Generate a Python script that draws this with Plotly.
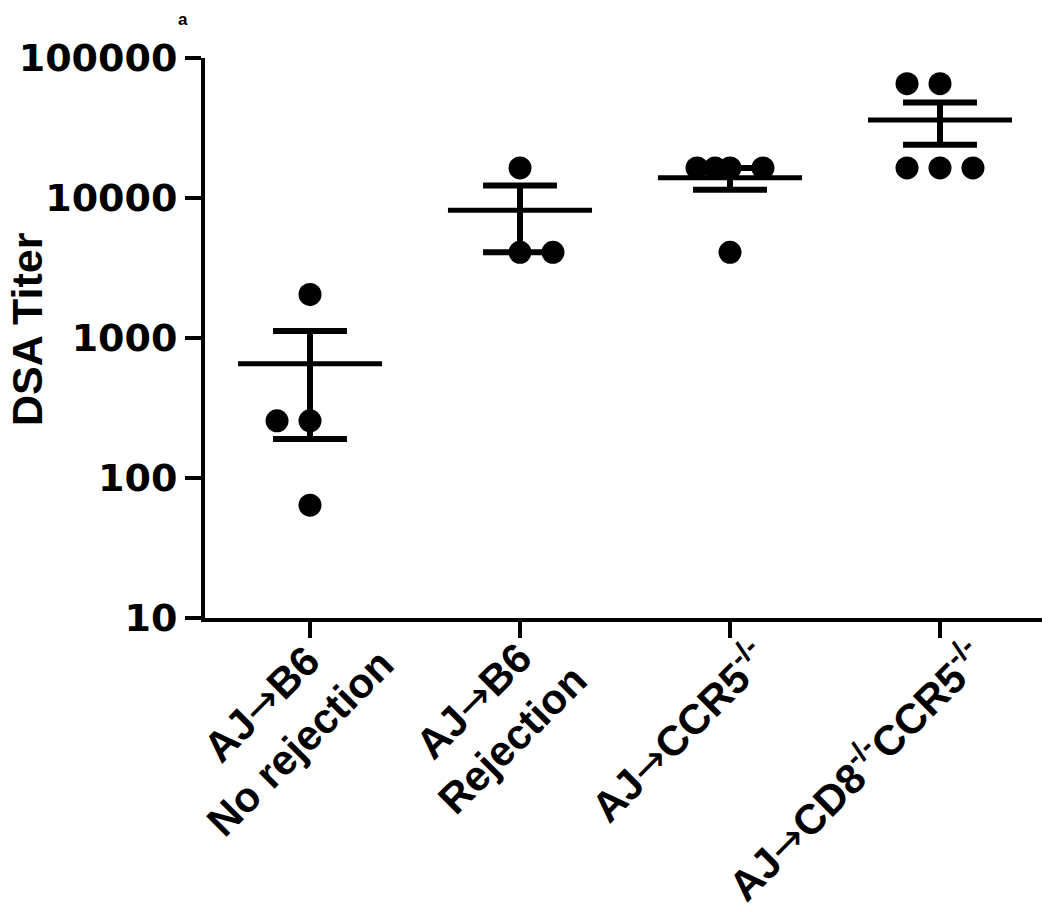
import numpy as np
import plotly.graph_objects as go

# ---- data ----
ARROW = "<span style='font-family:DejaVu Sans;font-weight:normal'>→</span>"
categories = ["AJ" + ARROW + "B6<br>No rejection",
              "AJ" + ARROW + "B6<br>Rejection",
              "AJ" + ARROW + "CCR5<sup>-/-</sup>",
              "AJ" + ARROW + "CD8<sup>-/-</sup>CCR5<sup>-/-</sup>"]
g1 = [2048, 256, 256, 64]
g2 = [16384, 4096, 4096]
g3 = [16384, 16384, 16384, 16384, 4096]
g4 = [65536, 65536, 16384, 16384, 16384]
groups = [g1, g2, g3, g4]
y_tickvals = [10, 100, 1000, 10000, 100000]
y_ticktext = ["10", "100", "1000", "10000", "100000"]
y_title = "DSA Titer"
panel_label = "a"

# ---- style: horizontal scatter offsets (in category units) ----
point_offsets = [
    [0, -0.157, 0, 0],
    [0, 0, 0.157],
    [-0.157, -0.071, 0, 0.157, 0],
    [-0.157, 0, -0.157, 0, 0.157],
]
label_shift = [(-30, -105), (-28, -102), (-52, -113), (-85, -152)]
FONT = "Liberation Sans, Arial, sans-serif"
TICKFONT = "DejaVu Sans, Liberation Sans, sans-serif"

fig = go.Figure()
for i, vals in enumerate(groups):
    v = np.array(vals, dtype=float)
    mean = v.mean()
    sem = v.std(ddof=1) / np.sqrt(len(v))
    xs = [i + o for o in point_offsets[i]]
    fig.add_trace(go.Scatter(x=xs, y=vals, mode="markers",
                             marker=dict(color="black", size=23, line=dict(width=0)),
                             showlegend=False, hoverinfo="y"))
    # mean line
    fig.add_trace(go.Scatter(x=[i - 0.343, i + 0.343], y=[mean, mean], mode="lines",
                             line=dict(color="black", width=5), showlegend=False))
    # SEM vertical
    fig.add_trace(go.Scatter(x=[i, i], y=[mean - sem, mean + sem], mode="lines",
                             line=dict(color="black", width=6), showlegend=False))
    # caps
    for yv in (mean - sem, mean + sem):
        fig.add_trace(go.Scatter(x=[i - 0.176, i + 0.176], y=[yv, yv], mode="lines",
                                 line=dict(color="black", width=6), showlegend=False))

for i, lab in enumerate(categories):
    fig.add_annotation(x=i, xref="x", y=0, yref="paper", text=lab,
                       textangle=-45, showarrow=False, align="center",
                       xanchor="center", yanchor="middle",
                       xshift=label_shift[i][0], yshift=label_shift[i][1],
                       font=dict(family=FONT, size=42, color="black", weight="bold"))

# y-axis title
fig.add_annotation(x=0, xref="paper", y=0.516, yref="paper", text=y_title,
                   textangle=-90, showarrow=False, xanchor="center", yanchor="middle",
                   xshift=-178,
                   font=dict(family=FONT, size=43, color="black", weight="bold"))

# panel label
fig.add_annotation(x=0, xref="paper", y=1, yref="paper", text=panel_label,
                   showarrow=False, xanchor="center", yanchor="top",
                   xshift=-22, yshift=50,
                   font=dict(family=FONT, size=17, color="black", weight="bold"))

fig.update_layout(
    width=1042, height=904,
    margin=dict(l=197, r=5, t=50, b=294, autoexpand=False),
    plot_bgcolor="white", paper_bgcolor="white",
    font=dict(family=FONT, color="black"),
)
fig.update_xaxes(range=[-0.5, 3.5], tickvals=[0, 1, 2, 3], ticktext=["", "", "", ""],
                 showline=True, linecolor="black", linewidth=4,
                 ticks="outside", ticklen=16, tickwidth=4, tickcolor="black",
                 showgrid=False, zeroline=False)
fig.update_yaxes(type="log", range=[1, 5], tickvals=y_tickvals, ticktext=y_ticktext,
                 showline=True, linecolor="black", linewidth=4,
                 ticks="outside", ticklen=16, tickwidth=4, tickcolor="black",
                 showgrid=False, zeroline=False,
                 tickfont=dict(family=TICKFONT, size=38, color="black", weight="bold"))

fig.write_html("out.html")
